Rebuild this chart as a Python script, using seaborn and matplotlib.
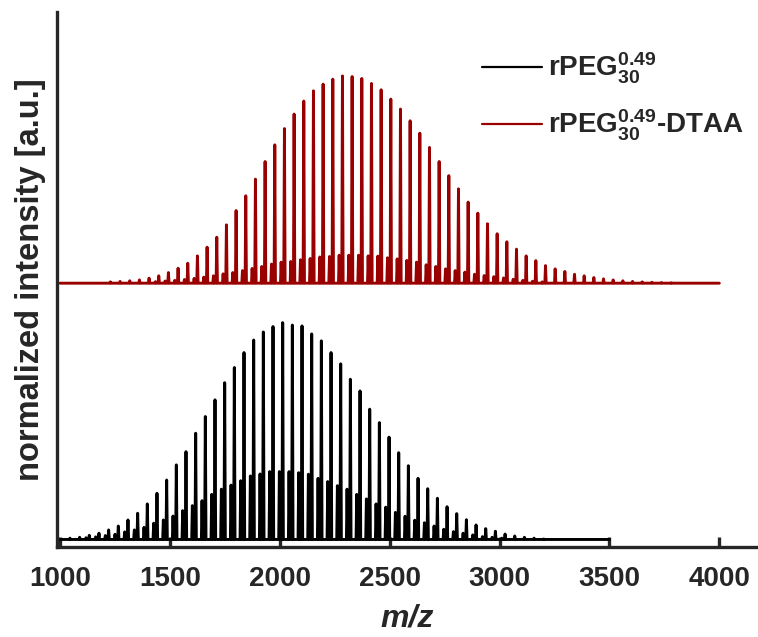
import numpy as np
import pandas as pd
import matplotlib
matplotlib.use('Agg')
import matplotlib.pyplot as plt
import seaborn as sns

# peak list (m/z and intensity normalised to the black maximum)
black_mz = [1045, 1089, 1133, 1177, 1221, 1265, 1309, 1353, 1397, 1441,
            1485, 1529, 1573, 1617, 1661, 1705, 1749, 1793, 1837, 1881,
            1925, 1969, 2013, 2057, 2101, 2145, 2189, 2233, 2277, 2321,
            2365, 2409, 2453, 2497, 2541, 2585, 2629, 2673, 2717, 2761,
            2805, 2849, 2893, 2937, 2981, 3025, 3069, 3113, 3157, 3201]
black_int = [0.006, 0.010, 0.019, 0.029, 0.044, 0.062, 0.090, 0.121, 0.164, 0.213,
             0.274, 0.344, 0.405, 0.490, 0.567, 0.644, 0.723, 0.793, 0.862, 0.920,
             0.957, 0.982, 1.000, 0.989, 0.985, 0.948, 0.916, 0.862, 0.810, 0.739,
             0.685, 0.601, 0.539, 0.472, 0.400, 0.340, 0.282, 0.234, 0.190, 0.151,
             0.119, 0.091, 0.067, 0.050, 0.038, 0.025, 0.016, 0.010, 0.006, 0.002]
black_adduct_mz = [1118, 1162, 1206, 1250, 1294, 1338, 1382, 1426, 1470, 1514,
                   1558, 1602, 1646, 1690, 1734, 1778, 1822, 1866, 1910, 1954,
                   1998, 2042, 2086, 2130, 2174, 2218, 2262, 2306, 2350, 2394,
                   2438, 2482, 2526, 2570, 2614, 2658, 2702, 2746, 2790, 2834,
                   2878, 2922, 2966, 3010]
black_adduct_int = [0.008, 0.012, 0.018, 0.024, 0.035, 0.044, 0.056, 0.075, 0.090, 0.108,
                    0.133, 0.156, 0.179, 0.208, 0.232, 0.251, 0.271, 0.293, 0.302, 0.313,
                    0.313, 0.313, 0.308, 0.301, 0.282, 0.267, 0.248, 0.232, 0.208, 0.187,
                    0.164, 0.149, 0.125, 0.107, 0.089, 0.077, 0.062, 0.047, 0.036, 0.029,
                    0.021, 0.013, 0.010, 0.006]

red_mz = [1229, 1273, 1317, 1361, 1405, 1449, 1493, 1537, 1581, 1625,
          1669, 1713, 1757, 1801, 1845, 1889, 1933, 1977, 2021, 2065,
          2109, 2153, 2197, 2241, 2285, 2329, 2373, 2417, 2461, 2505,
          2549, 2593, 2637, 2681, 2725, 2769, 2813, 2857, 2901, 2945,
          2989, 3033, 3077, 3121, 3165, 3209, 3253, 3297, 3341, 3385,
          3429, 3473, 3517, 3561, 3605, 3649, 3693, 3737, 3781]
red_int = [0.006, 0.008, 0.011, 0.015, 0.023, 0.034, 0.049, 0.069, 0.092, 0.126,
           0.166, 0.212, 0.269, 0.335, 0.403, 0.480, 0.561, 0.638, 0.713, 0.780,
           0.840, 0.887, 0.918, 0.941, 0.956, 0.953, 0.944, 0.921, 0.892, 0.849,
           0.803, 0.749, 0.692, 0.626, 0.561, 0.496, 0.435, 0.374, 0.323, 0.274,
           0.228, 0.191, 0.157, 0.126, 0.104, 0.081, 0.066, 0.054, 0.041, 0.034,
           0.026, 0.020, 0.015, 0.011, 0.008, 0.006, 0.004, 0.003, 0.002]
red_adduct_mz = [1434, 1478, 1522, 1566, 1610, 1654, 1698, 1742, 1786, 1830,
                 1874, 1918, 1962, 2006, 2050, 2094, 2138, 2182, 2226, 2270,
                 2314, 2358, 2402, 2446, 2490, 2534, 2578, 2622, 2666, 2710,
                 2754, 2798, 2842, 2886, 2930, 2974, 3018, 3062, 3106, 3150,
                 3194]
red_adduct_int = [0.007, 0.010, 0.013, 0.017, 0.022, 0.028, 0.034, 0.043, 0.049, 0.058,
                  0.068, 0.077, 0.088, 0.097, 0.100, 0.108, 0.114, 0.121, 0.123, 0.129,
                  0.129, 0.129, 0.126, 0.125, 0.117, 0.112, 0.105, 0.097, 0.085, 0.077,
                  0.066, 0.058, 0.051, 0.041, 0.035, 0.030, 0.024, 0.018, 0.013, 0.009,
                  0.006]

black_range = [1000, 3500]
red_range = [1000, 4000]
red_offset = 1.182

labels = [r'rPEG$_{30}^{0.49}$', r'rPEG$_{30}^{0.49}$-DTAA']
colors = ['#000000', '#990000']


def spectrum(mz, inten, mz2, inten2, rng, offset, half=3):
    peaks = sorted(list(zip(mz, inten)) + list(zip(mz2, inten2)))
    xs, ys = [rng[0]], [offset]
    for m, h in peaks:
        xs += [m - half, m, m + half]
        ys += [offset, offset + h, offset]
    xs.append(rng[1])
    ys.append(offset)
    return xs, ys


bx, by = spectrum(black_mz, black_int, black_adduct_mz, black_adduct_int, black_range, 0.0)
rx, ry = spectrum(red_mz, red_int, red_adduct_mz, red_adduct_int, red_range, red_offset)
df = pd.concat([
    pd.DataFrame({'mz': bx, 'intensity': by, 'sample': labels[0]}),
    pd.DataFrame({'mz': rx, 'intensity': ry, 'sample': labels[1]}),
], ignore_index=True)

sns.set_theme(style='ticks')
plt.rcParams['font.family'] = ['Liberation Sans', 'DejaVu Sans']
plt.rcParams['font.weight'] = 'bold'
plt.rcParams['mathtext.fontset'] = 'custom'
plt.rcParams['mathtext.rm'] = 'Liberation Sans:bold'
plt.rcParams['mathtext.bf'] = 'Liberation Sans:bold'
plt.rcParams['mathtext.it'] = 'Liberation Sans:italic:bold'
plt.rcParams['mathtext.default'] = 'rm'

fig, ax = plt.subplots(figsize=(7.58, 6.37), dpi=100)
fig.subplots_adjust(left=0.0752, right=1.0, bottom=0.1418, top=0.9816)

sns.lineplot(data=df, x='mz', y='intensity', hue='sample', palette=colors,
             sort=False, estimator=None, lw=2.1, ax=ax)

ax.set_xlim(986, 4176)
ax.set_ylim(-0.0332, 2.434)
ax.set_xticks([1000, 1500, 2000, 2500, 3000, 3500, 4000])
ax.set_yticks([])
sns.despine(ax=ax)
for s in ['left', 'bottom']:
    ax.spines[s].set_linewidth(2.4)
    ax.spines[s].set_color('#262626')
ax.tick_params(axis='x', direction='in', length=7, width=2.4, color='#262626',
               labelsize=20, labelcolor='#262626', pad=14)
for t in ax.get_xticklabels():
    t.set_fontweight('bold')

ax.set_xlabel('m/z', fontsize=23, fontweight='bold', fontstyle='italic',
              color='#262626', labelpad=8)
ax.set_ylabel('normalized intensity [a.u.]', fontsize=23.5, fontweight='bold',
              color='#262626', labelpad=8)

handles, labs = ax.get_legend_handles_labels()
for h in handles:
    h.set_linewidth(1.6)
ax.legend(handles, labs, loc='upper left', bbox_to_anchor=(0.606, 0.927),
          frameon=False, fontsize=20, handlelength=2.16, handletextpad=0.23,
          labelspacing=0.78, borderpad=0, borderaxespad=0)

fig.savefig('out.png', dpi=100)
